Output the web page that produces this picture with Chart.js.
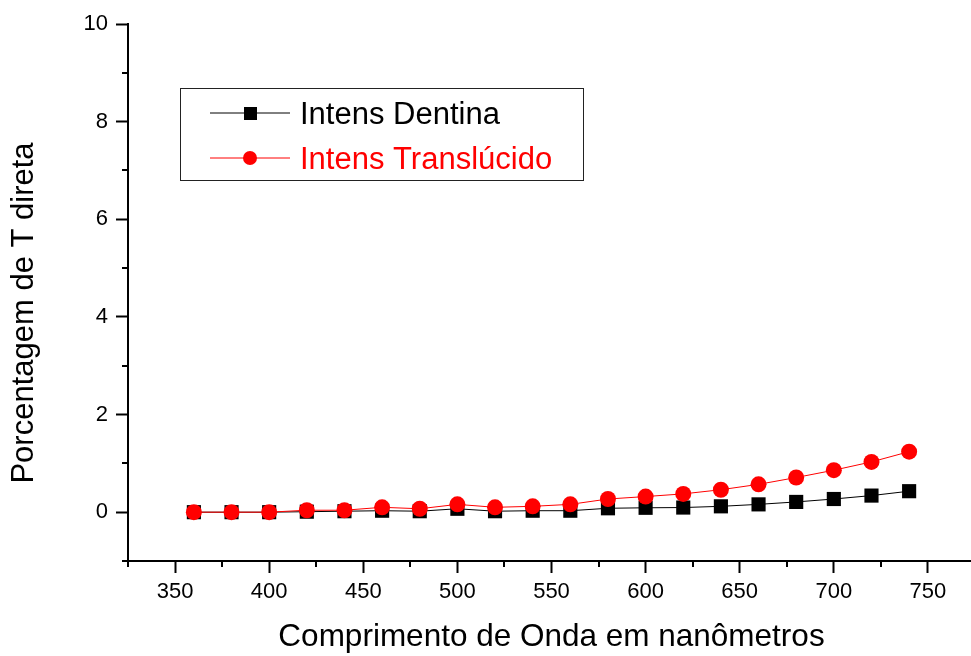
<!DOCTYPE html>
<html lang="pt">
<head>
    <meta charset="UTF-8">
    <title>Porcentagem de T direta</title>
    <script src="https://cdn.jsdelivr.net/npm/chart.js"></script>
    <style>
        html, body {
            margin: 0;
            padding: 0;
            overflow: hidden;
            background: #fff;
        }
        .chart-container {
            position: relative;
            width: 985px;
            height: 656px;
        }
    </style>
</head>
<body>
    <div class="chart-container">
        <canvas id="graficoT"></canvas>
    </div>

    <script>
        // Dados
        const comprimentos = [360, 380, 400, 420, 440, 460, 480, 500, 520, 540, 560, 580, 600, 620, 640, 660, 680, 700, 720, 740];
        const intensDentina = [0.00, 0.00, 0.00, 0.01, 0.02, 0.03, 0.02, 0.07, 0.02, 0.03, 0.03, 0.08, 0.09, 0.095, 0.12, 0.16, 0.21, 0.27, 0.34, 0.43];
        const intensTranslucido = [0.00, 0.00, 0.00, 0.04, 0.04, 0.10, 0.07, 0.16, 0.10, 0.12, 0.16, 0.27, 0.32, 0.375, 0.46, 0.57, 0.71, 0.86, 1.03, 1.24];
        const ticksX = [350, 400, 450, 500, 550, 600, 650, 700, 750];
        const ticksY = [0, 2, 4, 6, 8, 10];

        const fonte = '"Liberation Sans", Arial, sans-serif';
        Chart.defaults.font.family = fonte;
        Chart.defaults.color = '#000';

        // Marcas menores, títulos dos eixos e legenda
        const extras = {
            id: 'extras',
            afterDraw(chart) {
                const ctx = chart.ctx;
                const sx = chart.scales.x;
                const sy = chart.scales.y;
                const area = chart.chartArea;

                ctx.save();
                ctx.strokeStyle = '#000';
                ctx.lineWidth = 2;
                ctx.beginPath();
                for (let v = sx.min; v <= sx.max; v += 25) {
                    if (v % 50 === 0) continue;
                    const px = Math.round(sx.getPixelForValue(v));
                    ctx.moveTo(px, area.bottom);
                    ctx.lineTo(px, area.bottom + 6);
                }
                for (let v = sy.min; v <= sy.max; v += 1) {
                    if (v % 2 === 0) continue;
                    const py = Math.round(sy.getPixelForValue(v));
                    ctx.moveTo(area.left - 6, py);
                    ctx.lineTo(area.left, py);
                }
                ctx.stroke();

                ctx.fillStyle = '#000';
                ctx.font = '31.5px ' + fonte;
                ctx.textAlign = 'center';
                ctx.textBaseline = 'alphabetic';
                ctx.fillText('Comprimento de Onda em nanômetros', (area.left + area.right) / 2, 646);
                ctx.save();
                ctx.translate(33, 313);
                ctx.rotate(-Math.PI / 2);
                ctx.font = '31px ' + fonte;
                ctx.fillText('Porcentagem de T direta', 0, 0);
                ctx.restore();

                // legenda
                ctx.strokeStyle = '#222';
                ctx.lineWidth = 1;
                ctx.strokeRect(180.5, 88.5, 403, 92);
                ctx.font = '31px ' + fonte;
                ctx.textAlign = 'left';
                chart.data.datasets.forEach((ds, i) => {
                    const ly = 113 + i * 45;
                    ctx.strokeStyle = ds.borderColor;
                    ctx.beginPath();
                    ctx.moveTo(210, ly);
                    ctx.lineTo(290, ly);
                    ctx.stroke();
                    ctx.fillStyle = ds.pointBackgroundColor;
                    if (ds.pointStyle === 'rect') {
                        ctx.fillRect(244, ly - 6, 13, 13);
                    } else {
                        ctx.beginPath();
                        ctx.arc(250, ly, 7, 0, Math.PI * 2);
                        ctx.fill();
                    }
                    ctx.fillStyle = ds.labelColor;
                    ctx.fillText(ds.label, 300, ly + 11);
                });
                ctx.restore();
            }
        };

        new Chart(document.getElementById('graficoT'), {
            type: 'line',
            data: {
                labels: comprimentos,
                datasets: [
                    {
                        label: 'Intens Dentina',
                        data: comprimentos.map((c, i) => ({ x: c, y: intensDentina[i] })),
                        borderColor: '#000',
                        backgroundColor: '#000',
                        pointBackgroundColor: '#000',
                        labelColor: '#000',
                        borderWidth: 1,
                        pointStyle: 'rect',
                        pointRadius: 10,
                        pointBorderWidth: 0,
                        order: 2
                    },
                    {
                        label: 'Intens Translúcido',
                        data: comprimentos.map((c, i) => ({ x: c, y: intensTranslucido[i] })),
                        borderColor: '#ff0000',
                        backgroundColor: '#ff0000',
                        pointBackgroundColor: '#ff0000',
                        labelColor: '#ff0000',
                        borderWidth: 1,
                        pointStyle: 'circle',
                        pointRadius: 8,
                        pointBorderWidth: 0,
                        order: 1
                    }
                ]
            },
            options: {
                responsive: true,
                maintainAspectRatio: false,
                animation: false,
                layout: {
                    padding: { top: 24, right: 10, left: 0, bottom: 0 }
                },
                scales: {
                    x: {
                        type: 'linear',
                        min: 325,
                        max: 775,
                        afterBuildTicks: scale => { scale.ticks = ticksX.map(v => ({ value: v })); },
                        afterFit: scale => { scale.height = 95; },
                        border: { color: '#000', width: 2 },
                        grid: {
                            drawOnChartArea: false,
                            color: '#000',
                            tickLength: 12,
                            tickWidth: 2
                        },
                        ticks: {
                            font: { size: 22 },
                            padding: 6,
                            maxRotation: 0
                        }
                    },
                    y: {
                        type: 'linear',
                        min: -1,
                        max: 10,
                        afterBuildTicks: scale => { scale.ticks = ticksY.map(v => ({ value: v })); },
                        afterFit: scale => { scale.width = 128; },
                        border: { color: '#000', width: 2 },
                        grid: {
                            drawOnChartArea: false,
                            color: '#000',
                            tickLength: 12,
                            tickWidth: 2
                        },
                        ticks: {
                            font: { size: 22 },
                            padding: 8
                        }
                    }
                },
                plugins: {
                    legend: { display: false },
                    tooltip: { enabled: false }
                }
            },
            plugins: [extras]
        });
    </script>
</body>
</html>
